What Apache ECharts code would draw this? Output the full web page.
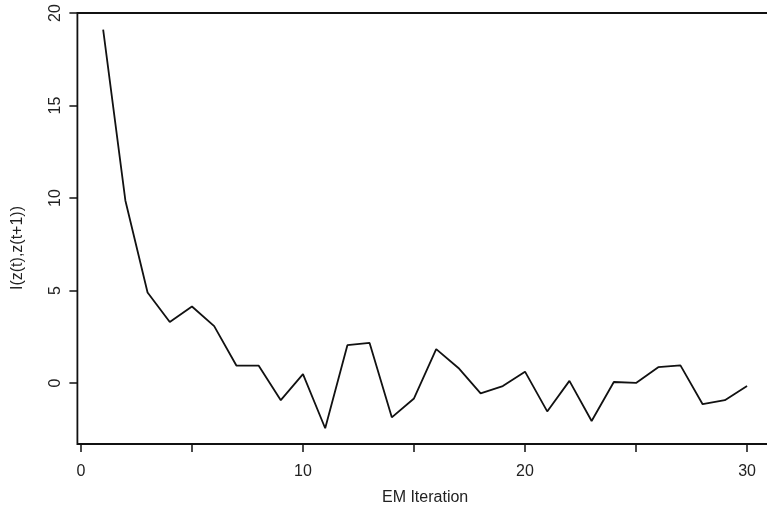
<!DOCTYPE html>
<html>
<head>
<meta charset="utf-8">
<script src="https://cdn.jsdelivr.net/npm/echarts@6/dist/echarts.min.js"></script>
<style>
html,body{margin:0;padding:0;background:#fff;}
#chart{width:767px;height:506px;}
</style>
</head>
<body>
<div id="chart"></div>
<script>
const iterations = [1,2,3,4,5,6,7,8,9,10,11,12,13,14,15,16,17,18,19,20,21,22,23,24,25,26,27,28,29,30];
const mutualInfo = [19.1,9.87,4.9,3.3,4.14,3.08,0.95,0.95,-0.92,0.49,-2.44,2.05,2.17,-1.85,-0.83,1.84,0.82,-0.55,-0.16,0.62,-1.53,0.12,-2.05,0.06,0.01,0.86,0.96,-1.14,-0.92,-0.16];
const xTicks = [0,5,10,15,20,25,30];
const xLabels = [0,10,20,30];
const yTicks = [0,5,10,15,20];

const font = '"Liberation Sans", Arial, Helvetica, sans-serif';
const chart = echarts.init(document.getElementById('chart'), null, {renderer:'canvas'});
chart.setOption({
  animation:false,
  backgroundColor:'#fff',
  grid:{left:77.4, top:13, width:695.4, height:431, containLabel:false, outerBoundsMode:'none',
        show:true, borderColor:'#111', borderWidth:1.8, backgroundColor:'transparent'},
  xAxis:{
    type:'value', min:-0.16, max:31.16,
    name:'EM Iteration', nameLocation:'middle', nameGap:46,
    nameTextStyle:{fontFamily:font, fontSize:16, color:'#222'},
    axisLine:{show:false, onZero:false},
    axisTick:{show:true, length:8, inside:false, customValues:xTicks, lineStyle:{color:'#111', width:1.5}},
    axisLabel:{customValues:xLabels, margin:20, fontFamily:font, fontSize:16, color:'#222'},
    splitLine:{show:false}
  },
  yAxis:{
    type:'value', min:-3.29, max:20,
    axisLine:{show:false, onZero:false},
    axisTick:{show:true, length:8, inside:false, customValues:yTicks, lineStyle:{color:'#111', width:1.5}},
    axisLabel:{customValues:yTicks, rotate:90, margin:14, fontFamily:font, fontSize:16, color:'#222'},
    splitLine:{show:false}
  },
  graphic:[{
    type:'text', x:18, y:248, rotation:Math.PI/2,
    style:{text:'I(z(t),z(t+1))', fontFamily:font, fontSize:16, fill:'#222', align:'center', verticalAlign:'middle'}
  }],
  series:[{
    type:'line', data:iterations.map((x,i)=>[x, mutualInfo[i]]),
    showSymbol:false, symbol:'none',
    lineStyle:{color:'#111', width:1.8}
  }]
});
</script>
</body>
</html>
